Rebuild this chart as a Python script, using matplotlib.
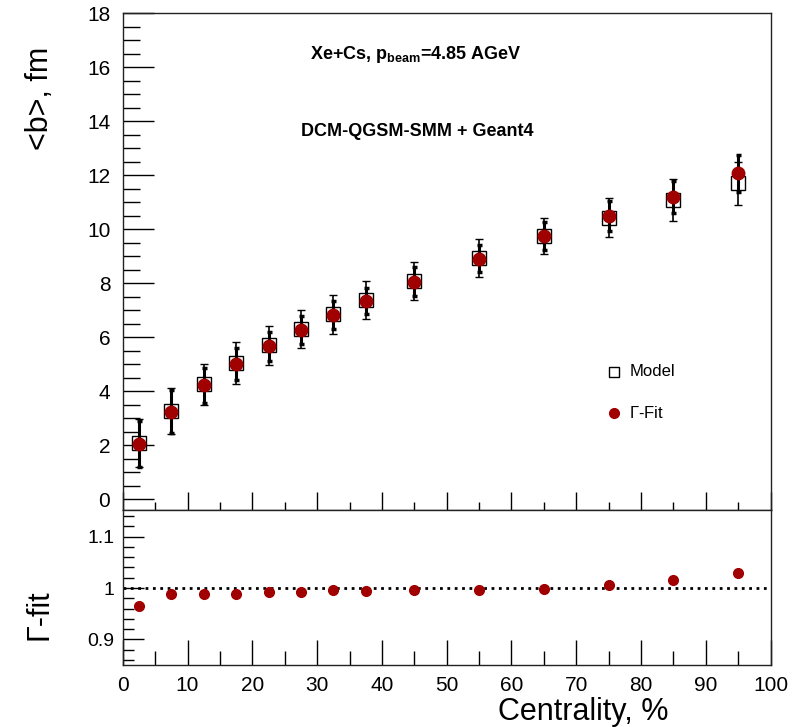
import matplotlib
matplotlib.use('Agg')
import matplotlib.pyplot as plt
from matplotlib.ticker import MultipleLocator, FuncFormatter

plt.rcParams['font.family'] = ['Liberation Sans', 'DejaVu Sans']
plt.rcParams['mathtext.fontset'] = 'custom'
plt.rcParams['mathtext.rm'] = 'Liberation Sans'
plt.rcParams['mathtext.bf'] = 'Liberation Sans:bold'

# ---- data ----
centrality = [2.5, 7.5, 12.5, 17.5, 22.5, 27.5, 32.5, 37.5, 45, 55, 65, 75, 85, 95]
b_model = [2.09, 3.27, 4.25, 5.05, 5.70, 6.30, 6.84, 7.37, 8.09, 8.93, 9.75, 10.42, 11.07, 11.69]
b_model_err = [0.88, 0.85, 0.75, 0.78, 0.72, 0.72, 0.72, 0.71, 0.70, 0.69, 0.68, 0.72, 0.77, 0.80]
b_fit = [2.03, 3.24, 4.22, 5.00, 5.66, 6.27, 6.82, 7.33, 8.06, 8.91, 9.74, 10.49, 11.20, 12.06]
b_fit_err = [0.85, 0.80, 0.65, 0.58, 0.54, 0.51, 0.51, 0.48, 0.53, 0.49, 0.51, 0.55, 0.60, 0.68]
ratio = [0.965, 0.988, 0.989, 0.989, 0.992, 0.992, 0.9955, 0.994, 0.9955, 0.997, 0.999, 1.005, 1.015, 1.029]

x_ticks = [0, 10, 20, 30, 40, 50, 60, 70, 80, 90, 100]
top_yticks = [0, 2, 4, 6, 8, 10, 12, 14, 16, 18]
bot_yticks = [0.9, 1.0, 1.1]

red = '#a00000'

fig = plt.figure(figsize=(7.92, 7.27), dpi=100)
ax1 = fig.add_axes([0.155, 0.2985, 0.818, 0.6835])
ax2 = fig.add_axes([0.155, 0.0853, 0.818, 0.2132])

for ax in (ax1, ax2):
    ax.set_xlim(0, 100)
    ax.set_xticks(x_ticks)
    ax.xaxis.set_minor_locator(MultipleLocator(5))
    ax.tick_params(which='both', direction='in', top=False, right=False, color='black', width=1)
    for s in ax.spines.values():
        s.set_linewidth(1.0)
        s.set_color('#222222')

# top panel
ax1.set_ylim(-0.4, 18)
ax1.set_yticks(top_yticks)
ax1.yaxis.set_minor_locator(MultipleLocator(0.5))
ax1.tick_params(axis='x', which='major', length=13, labelbottom=False)
ax1.tick_params(axis='x', which='minor', length=6)
ax1.tick_params(axis='y', which='major', length=22, labelsize=15, pad=9)
ax1.tick_params(axis='y', which='minor', length=12)

ax1.errorbar(centrality, b_model, yerr=b_model_err, fmt='s', mfc='white', mec='black',
             mew=1.0, ms=10, ecolor='black', elinewidth=1.2, capsize=3, capthick=1.2, zorder=2)
ax1.errorbar(centrality, b_fit, yerr=b_fit_err, fmt='none', ecolor='black',
             elinewidth=2.2, capsize=1.8, capthick=2.5, zorder=3)
ax1.plot(centrality, b_fit, 'o', color=red, ms=9, zorder=4)

ax1.text(0.452, 0.917, r'Xe+Cs, p$_{\mathbf{beam}}$=4.85 AGeV', transform=ax1.transAxes,
         ha='center', va='center', fontsize=13, fontweight='bold')
ax1.text(0.455, 0.762, 'DCM-QGSM-SMM + Geant4', transform=ax1.transAxes,
         ha='center', va='center', fontsize=13, fontweight='bold')

# legend (manual)
ax1.plot([0.759], [0.278], 's', transform=ax1.transAxes, mfc='white', mec='black', ms=7, mew=1)
ax1.text(0.782, 0.278, 'Model', transform=ax1.transAxes, ha='left', va='center', fontsize=12)
ax1.plot([0.759], [0.195], 'o', transform=ax1.transAxes, color=red, ms=7)
ax1.text(0.782, 0.195, r'$\Gamma$-Fit', transform=ax1.transAxes, ha='left', va='center', fontsize=12)

# bottom panel
ax2.set_ylim(0.85, 1.152)
ax2.set_yticks(bot_yticks)
ax2.yaxis.set_major_formatter(FuncFormatter(lambda v, p: '%g' % v))
ax2.yaxis.set_minor_locator(MultipleLocator(0.02))
ax2.tick_params(axis='x', which='major', length=18, labelsize=15, pad=8)
ax2.tick_params(axis='x', which='minor', length=10)
ax2.tick_params(axis='y', which='major', length=15, labelsize=14, pad=6)
ax2.tick_params(axis='y', which='minor', length=8)
ax2.axhline(1.0, color='black', ls=':', lw=2)
ax2.plot(centrality, ratio, 'o', color=red, ms=7, zorder=3)

# axis titles
fig.text(40 / 792, 1 - 98 / 727, '<b>, fm', rotation=90, ha='center', va='center', fontsize=22)
fig.text(40 / 792, 1 - 615 / 727, 'Γ-fit', rotation=90, ha='center', va='center', fontsize=22)
fig.text(668 / 792, 1 - 712 / 727, 'Centrality, %', ha='right', va='center', fontsize=22)

fig.savefig('out.png', dpi=100)
